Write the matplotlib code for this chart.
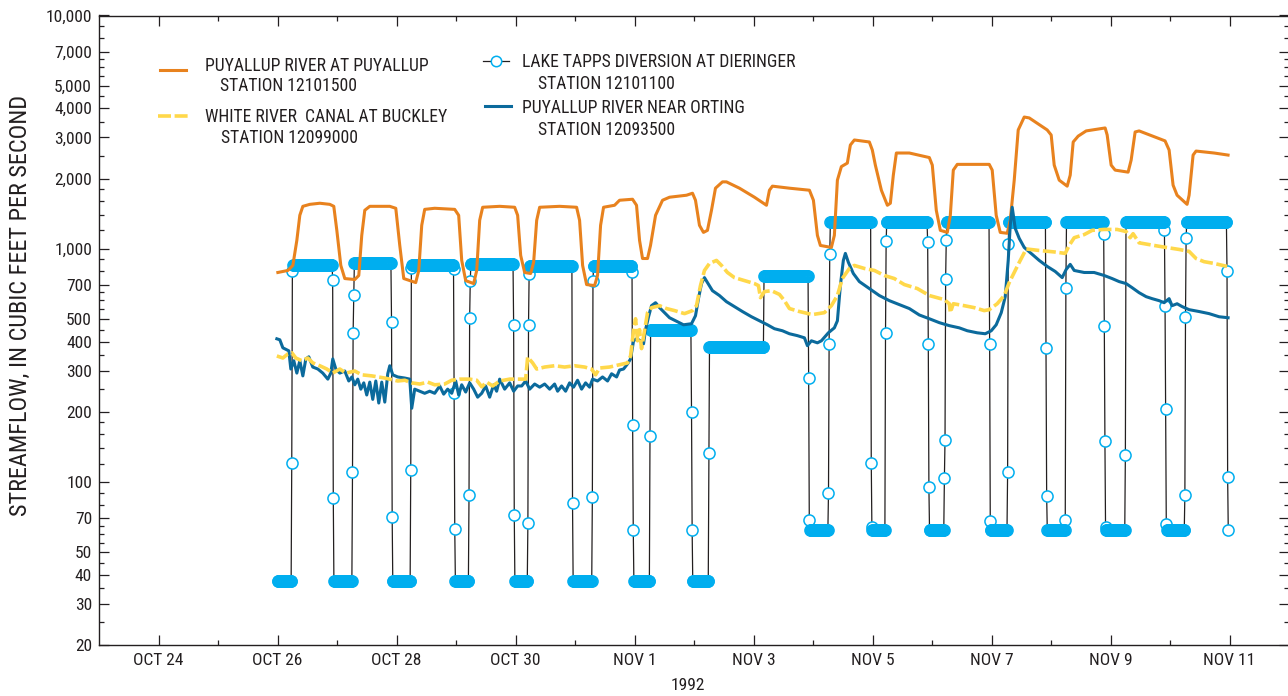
#!/usr/bin/env python3
"""
Puyallup 유역 유량 그래프 (1992년 10월 26일 ~ 11월 11일)

세 하천 관측소 유량과 Lake Tapps 분수량(15분 간격)을 로그 축에 함께 그린다.
출력: out.png (1288 x 696)
"""

import numpy as np
import matplotlib
matplotlib.use("Agg")
import matplotlib.pyplot as plt
from matplotlib import font_manager
from matplotlib.lines import Line2D
from matplotlib.ticker import FixedLocator, FixedFormatter, NullFormatter


# 시간 단위: 10월 23일 0시부터 경과 일수
DAY_TICKS = [1, 3, 5, 7, 9, 11, 13, 15, 17, 19]
DAY_LABELS = ['OCT 24', 'OCT 26', 'OCT 28', 'OCT 30', 'NOV 1',
              'NOV 3', 'NOV 5', 'NOV 7', 'NOV 9', 'NOV 11']
DAY_MINOR = [2, 4, 6, 8, 10, 12, 14, 16, 18]

Q_TICKS = [20, 30, 40, 50, 70, 100, 200, 300, 400, 500, 700,
           1000, 2000, 3000, 4000, 5000, 7000, 10000]
Q_MINOR = [25, 35, 45, 55, 60, 65, 80, 90,
           120, 140, 160, 180, 250, 350, 450, 550, 600, 650, 800, 900,
           1200, 1400, 1600, 1800, 2500, 3500, 4500, 5500, 6000, 6500, 8000, 9000]

# PUYALLUP RIVER AT PUYALLUP (12101500)
PUY_T = [3.006, 3.174, 3.258, 3.325, 3.375, 3.426, 3.543, 3.711, 3.879, 3.946,
         3.997, 4.064, 4.131, 4.299, 4.366, 4.416, 4.467, 4.551, 4.887, 4.988,
         5.055, 5.122, 5.323, 5.374, 5.424, 5.474, 5.642, 5.978, 6.045, 6.096,
         6.163, 6.297, 6.348, 6.398, 6.448, 6.734, 6.986, 7.036, 7.087, 7.154,
         7.255, 7.305, 7.356, 7.406, 7.741, 8.027, 8.077, 8.128, 8.195, 8.329,
         8.379, 8.430, 8.480, 8.665, 8.749, 8.967, 9.034, 9.085, 9.135, 9.219,
         9.269, 9.354, 9.471, 9.589, 9.874, 9.975, 10.025, 10.092, 10.159, 10.226,
         10.294, 10.361, 10.478, 10.545, 10.764, 11.016, 11.218, 11.268, 11.318, 11.604,
         11.940, 12.007, 12.074, 12.124, 12.309, 12.359, 12.410, 12.477, 12.577, 12.628,
         12.695, 12.947, 12.997, 13.048, 13.149, 13.250, 13.300, 13.350, 13.401, 13.619,
         13.955, 14.005, 14.072, 14.140, 14.257, 14.308, 14.358, 14.425, 14.962, 15.012,
         15.079, 15.147, 15.264, 15.315, 15.382, 15.449, 15.550, 15.634, 15.936, 16.003,
         16.054, 16.138, 16.272, 16.323, 16.373, 16.457, 16.591, 16.910, 16.944, 17.011,
         17.078, 17.296, 17.347, 17.414, 17.481, 17.917, 17.985, 18.052, 18.119, 18.287,
         18.321, 18.388, 18.438, 18.741, 18.976]
PUY_Q = [791, 807, 848, 1086, 1391, 1520, 1550, 1567, 1550, 1520,
         1199, 848, 745, 738, 768, 1141, 1462, 1520, 1520, 1491,
         1033, 745, 716, 807, 1260, 1475, 1491, 1475, 1391, 891,
         730, 709, 807, 1324, 1506, 1520, 1506, 1391, 936, 791,
         783, 875, 1324, 1506, 1520, 1506, 1324, 848, 702, 695,
         768, 1260, 1506, 1536, 1614, 1630, 1536, 1086, 908, 908,
         1033, 1391, 1614, 1663, 1696, 1730, 1614, 1260, 1175, 1199,
         1462, 1818, 1935, 1935, 1818, 1663, 1536, 1782, 1855, 1818,
         1782, 1614, 1141, 1033, 1013, 1141, 1968, 2250, 2329, 2784,
         2926, 2869, 2650, 2283, 1782, 1536, 1567, 2068, 2573, 2573,
         2460, 2283, 1462, 1199, 1175, 1391, 2173, 2300, 2300, 2173,
         1391, 1175, 1165, 1324, 1968, 3231, 3670, 3638, 3231, 3074,
         2283, 1968, 1855, 2068, 2869, 3040, 3200, 3295, 3074, 2283,
         2173, 2130, 2399, 3167, 3200, 2900, 2650, 1873, 1696, 1550,
         1696, 2521, 2623, 2573, 2521]

# WHITE RIVER CANAL AT BUCKLEY (12099000)
WHITE_T = [2.989, 3.090, 3.174, 3.241, 3.308, 3.409, 3.510, 3.593, 3.711, 3.829,
           3.929, 4.047, 4.148, 4.299, 4.416, 4.584, 4.803, 4.887, 5.021, 5.139,
           5.256, 5.390, 5.525, 5.642, 5.810, 5.928, 6.062, 6.230, 6.348, 6.432,
           6.515, 6.616, 6.734, 6.902, 7.070, 7.171, 7.204, 7.288, 7.356, 7.490,
           7.657, 7.825, 7.993, 8.161, 8.279, 8.346, 8.413, 8.581, 8.749, 8.883,
           8.934, 8.984, 9.018, 9.051, 9.085, 9.118, 9.169, 9.219, 9.286, 9.421,
           9.538, 9.673, 9.841, 9.975, 10.042, 10.109, 10.176, 10.260, 10.378, 10.462,
           10.562, 10.680, 10.848, 11.016, 11.083, 11.117, 11.184, 11.301, 11.436, 11.520,
           11.604, 11.772, 11.990, 12.191, 12.309, 12.410, 12.493, 12.611, 12.695, 12.863,
           13.031, 13.199, 13.367, 13.535, 13.753, 13.955, 14.207, 14.291, 14.308, 14.358,
           14.542, 14.710, 14.878, 14.962, 15.096, 15.214, 15.298, 15.382, 15.466, 15.584,
           15.802, 16.054, 16.239, 16.306, 16.390, 16.558, 16.692, 16.893, 17.111, 17.262,
           17.330, 17.380, 17.481, 17.733, 17.935, 18.153, 18.321, 18.438, 18.573, 18.741,
           18.959]
WHITE_Q = [347, 340, 354, 358, 340, 331, 340, 324, 315, 305,
           293, 305, 293, 299, 288, 285, 279, 276, 271, 273,
           266, 263, 268, 261, 263, 273, 276, 276, 273, 256,
           268, 258, 271, 276, 276, 276, 343, 324, 305, 311,
           315, 311, 315, 311, 305, 288, 308, 311, 318, 324,
           347, 445, 501, 403, 450, 373, 445, 532, 559, 570,
           554, 543, 527, 543, 570, 695, 807, 865, 891, 848,
           791, 752, 730, 709, 695, 617, 655, 661, 637, 599,
           554, 538, 522, 532, 570, 630, 745, 823, 848, 823,
           807, 768, 745, 702, 675, 630, 605, 581, 532, 581,
           570, 559, 543, 548, 581, 630, 716, 791, 874, 998,
           983, 969, 955, 1033, 1115, 1150, 1199, 1210, 1210, 1185,
           1115, 1160, 1060, 1033, 1013, 993, 974, 908, 880, 865,
           840]

# PUYALLUP RIVER NEAR ORTING (12093500)
ORTING_T = [2.989, 3.039, 3.090, 3.190, 3.224, 3.274, 3.325, 3.375, 3.426, 3.476,
            3.526, 3.593, 3.678, 3.761, 3.846, 3.896, 3.929, 3.980, 4.047, 4.131,
            4.198, 4.250, 4.299, 4.349, 4.400, 4.450, 4.500, 4.551, 4.601, 4.652,
            4.702, 4.752, 4.803, 4.853, 4.887, 4.937, 5.021, 5.139, 5.223, 5.256,
            5.306, 5.390, 5.474, 5.558, 5.642, 5.726, 5.793, 5.860, 5.928, 5.995,
            6.045, 6.096, 6.163, 6.230, 6.297, 6.364, 6.432, 6.499, 6.566, 6.633,
            6.683, 6.734, 6.818, 6.902, 6.969, 7.036, 7.104, 7.171, 7.238, 7.322,
            7.406, 7.490, 7.574, 7.657, 7.708, 7.775, 7.842, 7.909, 7.976, 8.043,
            8.111, 8.178, 8.245, 8.296, 8.379, 8.463, 8.547, 8.615, 8.699, 8.749,
            8.816, 8.883, 8.934, 8.984, 9.034, 9.102, 9.152, 9.186, 9.236, 9.286,
            9.354, 9.421, 9.505, 9.589, 9.690, 9.824, 9.958, 10.025, 10.075, 10.126,
            10.176, 10.226, 10.310, 10.428, 10.545, 10.680, 10.814, 10.966, 11.100, 11.234,
            11.352, 11.486, 11.604, 11.738, 11.856, 11.906, 11.973, 12.074, 12.141, 12.258,
            12.359, 12.410, 12.460, 12.510, 12.544, 12.594, 12.678, 12.779, 12.947, 13.115,
            13.283, 13.451, 13.619, 13.787, 13.955, 14.123, 14.291, 14.458, 14.593, 14.761,
            14.895, 14.996, 15.079, 15.164, 15.231, 15.281, 15.315, 15.348, 15.399, 15.466,
            15.550, 15.667, 15.802, 15.936, 16.071, 16.188, 16.255, 16.323, 16.390, 16.558,
            16.725, 16.893, 17.027, 17.145, 17.262, 17.363, 17.481, 17.599, 17.699, 17.817,
            17.901, 17.985, 18.035, 18.119, 18.203, 18.321, 18.489, 18.657, 18.825, 18.976]
ORTING_Q = [411, 407, 376, 365, 305, 331, 293, 331, 285, 337,
            344, 311, 305, 293, 276, 293, 337, 305, 293, 299,
            271, 282, 261, 276, 250, 266, 236, 268, 226, 271,
            218, 268, 220, 291, 315, 288, 282, 279, 276, 207,
            250, 245, 240, 245, 240, 258, 238, 250, 240, 271,
            236, 261, 243, 266, 250, 231, 240, 258, 231, 261,
            245, 276, 250, 266, 245, 258, 258, 271, 250, 263,
            255, 263, 250, 263, 245, 258, 245, 266, 255, 273,
            250, 266, 255, 276, 271, 282, 271, 291, 282, 302,
            305, 321, 337, 403, 411, 403, 391, 450, 511, 570,
            587, 559, 532, 506, 491, 472, 477, 516, 611, 709,
            752, 716, 661, 630, 593, 565, 538, 511, 491, 472,
            454, 445, 432, 424, 415, 384, 403, 395, 403, 436,
            458, 491, 695, 891, 955, 875, 783, 723, 675, 630,
            599, 576, 554, 520, 501, 482, 468, 458, 445, 436,
            432, 445, 472, 532, 623, 891, 1260, 1506, 1222, 1108,
            1013, 955, 891, 840, 799, 752, 815, 857, 807, 791,
            791, 768, 745, 723, 709, 681, 648, 623, 611, 599,
            587, 611, 570, 581, 565, 548, 538, 527, 511, 506]

# LAKE TAPPS DIVERSION AT DIERINGER (12101100)
# 구간별 일정 분수량, 구간 종료 시각, 다음 구간으로 넘어가는 사이의 15분 관측값
DIV_START = 3.0
DIV_STEP = 0.25 / 24
DIV_LEVEL = [37.5, 850, 37.5, 865, 37.5, 850, 37.5, 860, 37.5, 845,
             37.5, 845, 37.5, 450, 37.5, 380, 766, 62, 1300, 62,
             1300, 62, 1300, 62, 1300, 62, 1300, 62, 1300, 62, 1300]
DIV_END = [3.236, 3.918, 4.253, 4.915, 5.239, 5.950, 6.213, 6.961, 7.199, 7.955,
           8.284, 8.955, 9.253, 9.950, 10.249, 11.167, 11.923, 12.253, 12.976, 13.216,
           13.921, 14.207, 14.962, 15.269, 15.914, 16.238, 16.882, 17.241, 17.905, 18.242,
           18.950]
DIV_STEPS = [[121, 801], [738, 85], [110, 437, 634], [483, 71], [113, 825],
             [815, 241, 63], [88, 503, 725], [471, 72], [67, 471, 780], [81],
             [86, 730], [793, 175, 62], [158], [200, 62], [133],
             [], [278, 69], [90, 392, 945], [121, 64], [437, 1078],
             [1068, 392, 95], [104, 151, 743, 1090], [392, 68], [110, 1051], [375, 87],
             [69, 679], [1160, 468, 150, 64], [131], [1199, 570, 206, 66], [88, 510, 1115],
             [800, 105, 62]]

ORANGE = '#e8821e'
YELLOW = '#ffd84a'
BLUE = '#0b6a9c'
CYAN = '#00aeef'
INK = '#231f20'

W, H = 1288, 696
TEXT_SIZE = 12.7


def pick_font(names):
    """설치된 첫 번째 글꼴 이름 반환"""
    for name in names:
        try:
            font_manager.findfont(name, fallback_to_default=False)
            return name
        except ValueError:
            continue
    return 'DejaVu Sans'


def diversion_series():
    """구간 표에서 15분 간격 분수량 시계열 구성"""
    t, q = [], []
    now = DIV_START
    for level, end, steps in zip(DIV_LEVEL, DIV_END, DIV_STEPS):
        while now <= end:
            t.append(now)
            q.append(level)
            now += DIV_STEP
        for value in steps:
            t.append(now)
            q.append(value)
            now += DIV_STEP
    return np.array(t), np.array(q)


def fx(px):
    return px / W


def fy(py):
    return 1 - py / H


def draw_legend(fig):
    """범례를 그림 좌표에 직접 배치"""
    kw = dict(fontsize=TEXT_SIZE, color=INK, va='center', ha='left')

    fig.add_artist(Line2D([fx(160), fx(186)], [fy(70), fy(70)], color=ORANGE, lw=2.2))
    fig.text(fx(205), fy(66), 'PUYALLUP RIVER AT PUYALLUP', **kw)
    fig.text(fx(220), fy(86), 'STATION 12101500', **kw)

    fig.add_artist(Line2D([fx(158), fx(188)], [fy(116), fy(116)], color=YELLOW,
                          lw=2.6, dashes=(3.6, 1.0)))
    fig.text(fx(205), fy(117), 'WHITE RIVER  CANAL AT BUCKLEY', **kw)
    fig.text(fx(221), fy(138), 'STATION 12099000', **kw)

    fig.add_artist(Line2D([fx(483), fx(509)], [fy(61), fy(61)], color=INK, lw=0.9))
    fig.add_artist(Line2D([fx(496)], [fy(61)], ls='none', marker='o', ms=7.5,
                          mfc='white', mec=CYAN, mew=1.1))
    fig.text(fx(522), fy(62), 'LAKE TAPPS DIVERSION AT DIERINGER', **kw)
    fig.text(fx(538), fy(84), 'STATION 12101100', **kw)

    fig.add_artist(Line2D([fx(485), fx(511)], [fy(106), fy(106)], color=BLUE, lw=2.2))
    fig.text(fx(522), fy(108), 'PUYALLUP RIVER NEAR ORTING', **kw)
    fig.text(fx(538), fy(130), 'STATION 12093500', **kw)


def main():
    font = pick_font(['Liberation Sans Narrow', 'Roboto Condensed', 'DejaVu Sans Condensed',
                      'Liberation Sans'])
    plt.rcParams['font.family'] = [font, 'DejaVu Sans']

    fig = plt.figure(figsize=(W / 100, H / 100), dpi=100)
    ax = fig.add_axes([fx(99), 1 - 645 / H, (1289 - 99) / W, (645 - 15.5) / H])

    # 분수량: 검은 연결선, 원 안쪽을 가리는 흰 바탕, 그 위에 하늘색 고리
    div_t, div_q = diversion_series()
    ax.plot(div_t, div_q, color=INK, lw=0.9, zorder=2)
    ax.plot(div_t, div_q, ls='none', marker='o', ms=7.8, mfc='white', mew=0,
            zorder=2.1)
    ax.plot(div_t, div_q, ls='none', marker='o', ms=8.0, mfc='none', mec=CYAN,
            mew=1.1, zorder=2.2)

    ax.plot(PUY_T, PUY_Q, color=ORANGE, lw=2.2, zorder=3)
    ax.plot(ORTING_T, ORTING_Q, color=BLUE, lw=2.2, zorder=4)
    ax.plot(WHITE_T, WHITE_Q, color=YELLOW, lw=2.6, dashes=(3.6, 1.0), zorder=5)

    ax.set_yscale('log')
    ax.set_ylim(20, 10000)
    ax.set_xlim(0, 20)

    ax.yaxis.set_major_locator(FixedLocator(Q_TICKS))
    ax.yaxis.set_major_formatter(FixedFormatter([f'{v:,}' for v in Q_TICKS]))
    ax.yaxis.set_minor_locator(FixedLocator(Q_MINOR))
    ax.yaxis.set_minor_formatter(NullFormatter())

    ax.xaxis.set_major_locator(FixedLocator(DAY_TICKS))
    ax.xaxis.set_major_formatter(FixedFormatter(DAY_LABELS))
    ax.xaxis.set_minor_locator(FixedLocator(DAY_MINOR))

    ax.tick_params(which='both', direction='in', top=True, right=True,
                   color=INK, width=0.9, labelsize=12.5, labelcolor=INK)
    ax.tick_params(which='major', length=7.5)
    ax.tick_params(which='minor', length=3.8)
    ax.tick_params(axis='x', which='major', pad=6)
    ax.tick_params(axis='y', which='major', pad=5)
    for spine in ax.spines.values():
        spine.set_color(INK)
        spine.set_linewidth(1.0)

    fig.text(fx(20), fy(305), 'STREAMFLOW, IN CUBIC FEET PER SECOND', rotation=90,
             ha='center', va='center', fontsize=17.5, color=INK)
    fig.text(fx(688), fy(686), '1992', ha='center', va='center', fontsize=12.5, color=INK)

    draw_legend(fig)

    fig.savefig('out.png', dpi=100, facecolor='white')
    plt.close(fig)


if __name__ == '__main__':
    main()
